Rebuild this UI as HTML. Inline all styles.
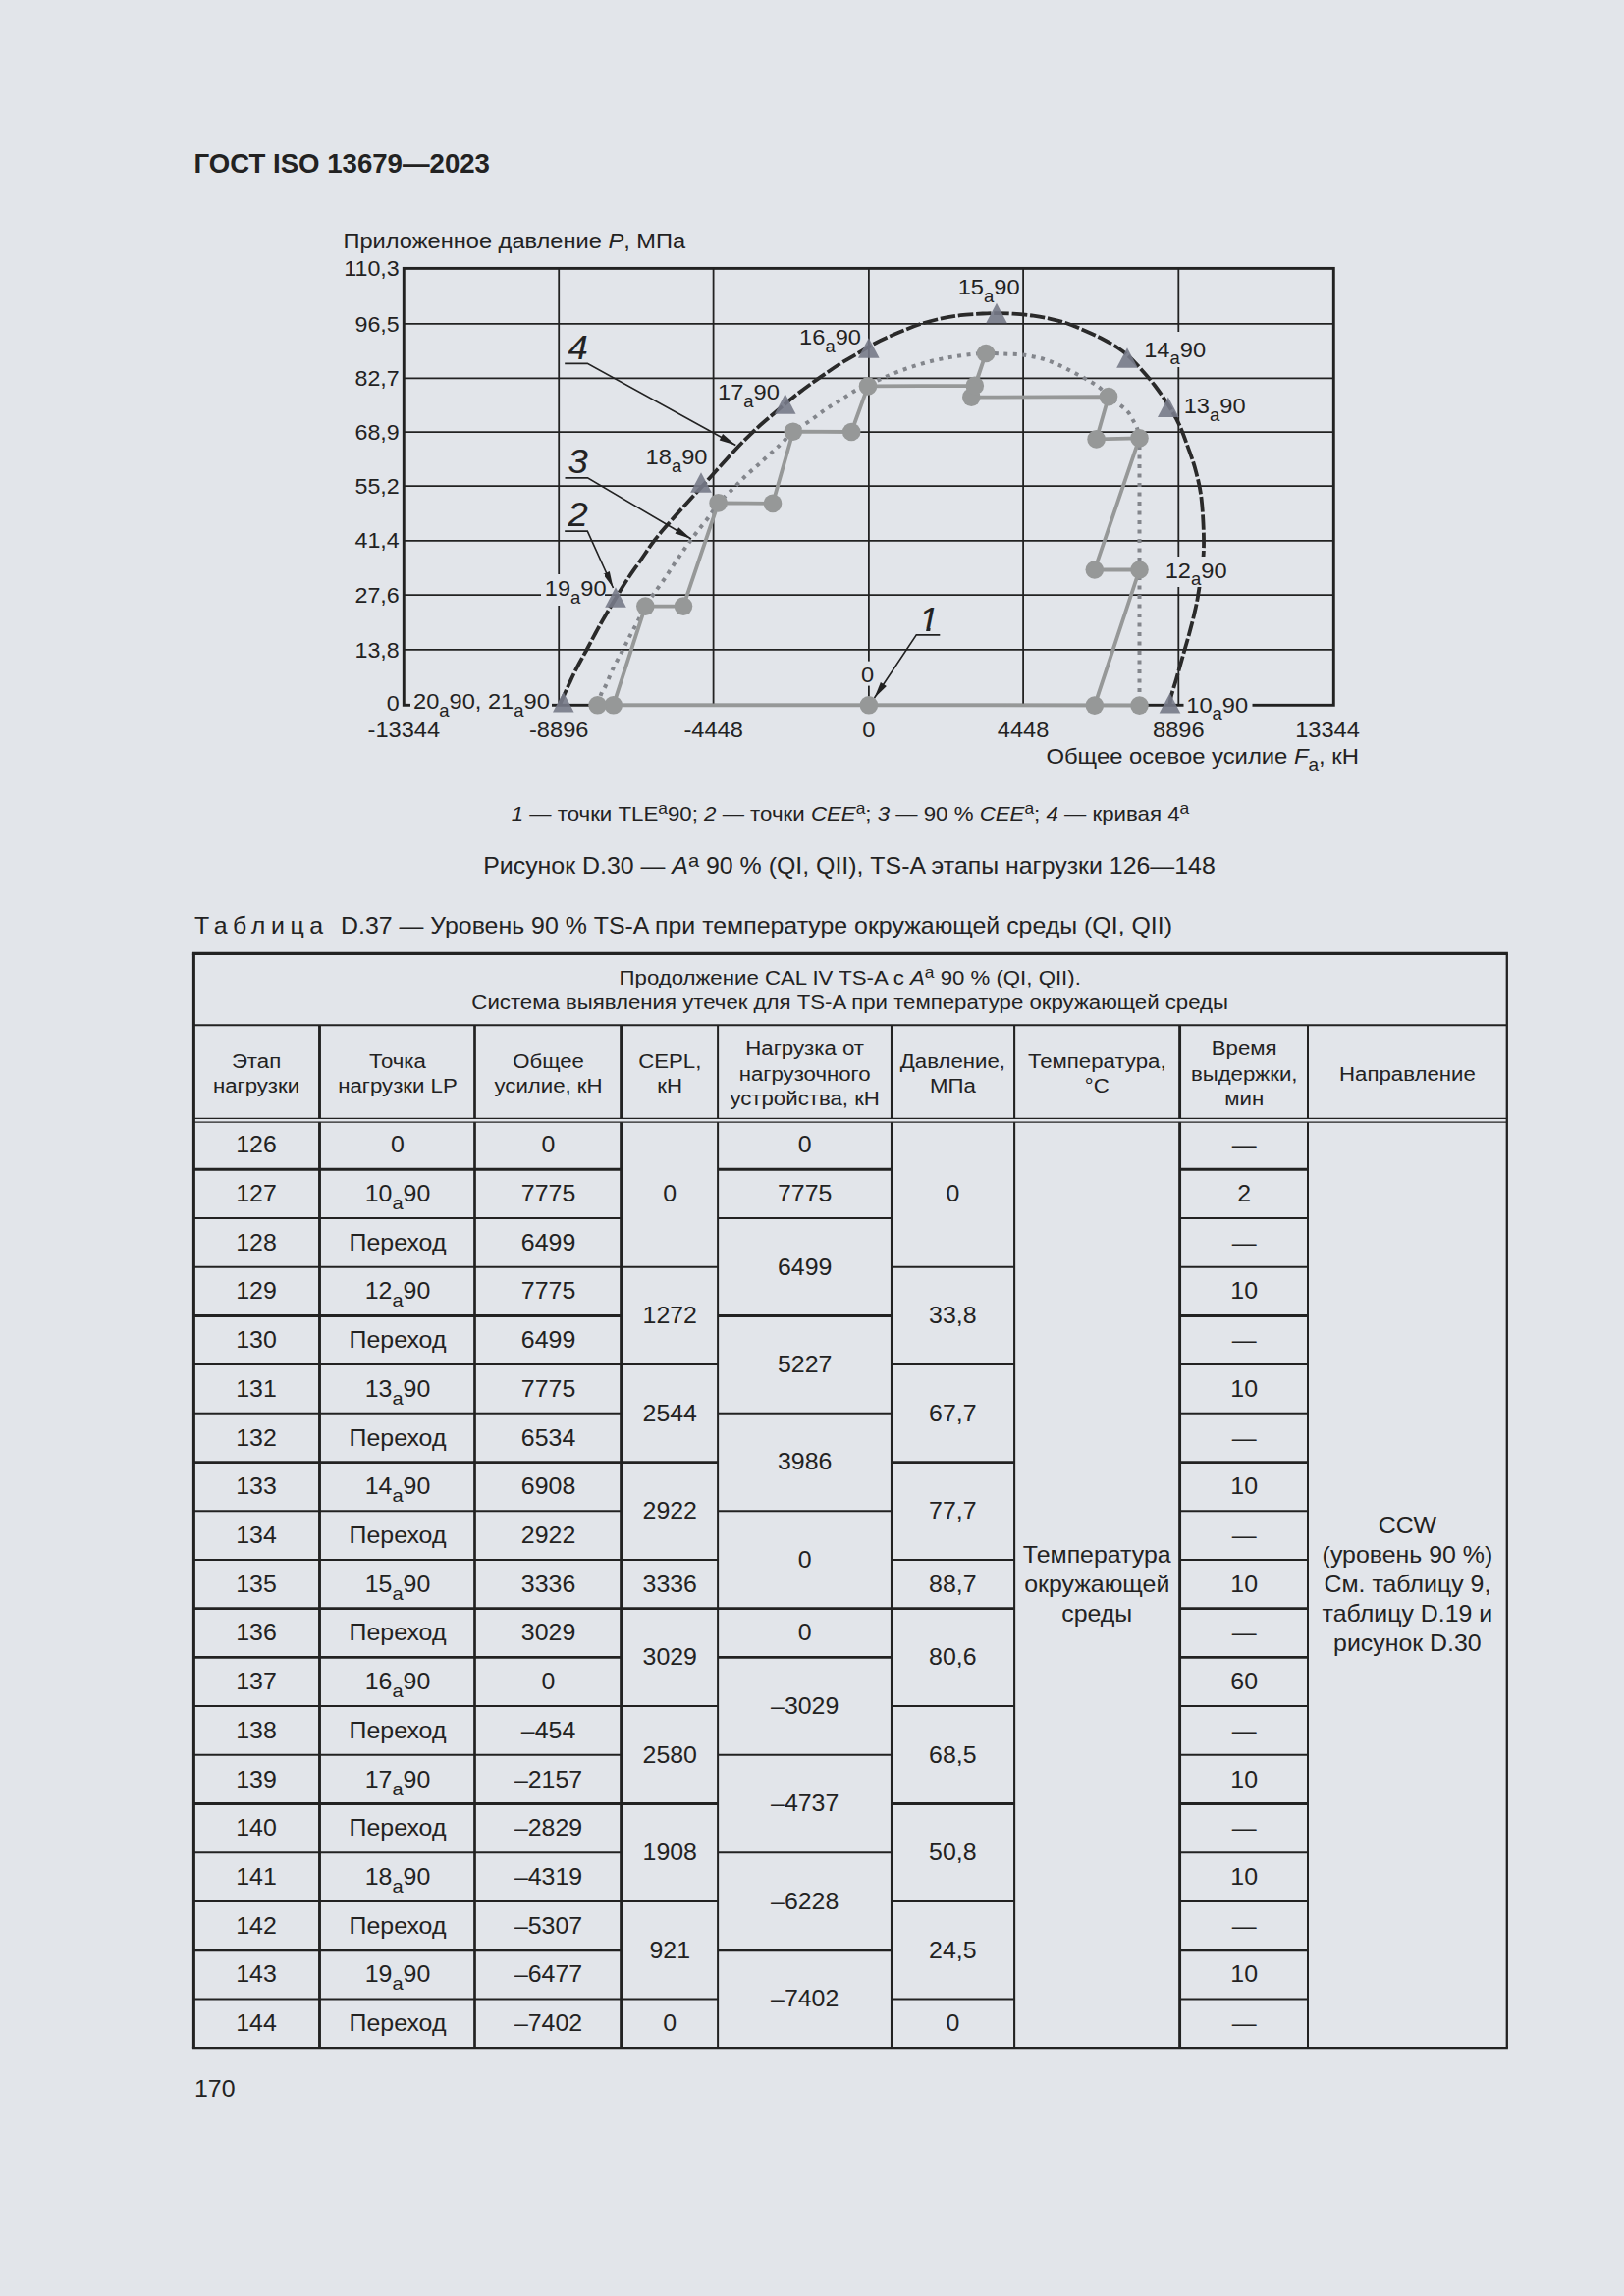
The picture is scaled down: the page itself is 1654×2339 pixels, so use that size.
<!DOCTYPE html>
<html lang="ru"><head><meta charset="utf-8"><title>ГОСТ ISO 13679—2023</title>
<style>
html,body{margin:0;padding:0;}
body{width:1654px;height:2339px;background:#e2e5ea;position:relative;overflow:hidden;font-family:"Liberation Sans", sans-serif;color:#222;}
.t{position:absolute;white-space:nowrap;line-height:1;transform-origin:0 50%;transform:scaleX(1.055);}
.c{position:absolute;text-align:center;white-space:nowrap;transform:scaleX(1.055);}
sub,sup{line-height:0;}
svg{position:absolute;left:0;top:0;}
svg text{font-family:"Liberation Sans", sans-serif;fill:#222;}
</style></head><body>
<div class="t" id="hdr" style="transform:none;left:197.5px;top:153.3px;font-size:27.6px;font-weight:bold;">ГОСТ ISO 13679—2023</div>
<svg width="1654" height="2339" viewBox="0 0 1654 2339">
<line x1="569.2" y1="273.4" x2="569.2" y2="718.3" stroke="#222" stroke-width="1.8"/>
<line x1="726.6" y1="273.4" x2="726.6" y2="718.3" stroke="#222" stroke-width="1.8"/>
<line x1="884.9" y1="273.4" x2="884.9" y2="718.3" stroke="#222" stroke-width="1.8"/>
<line x1="1042.1" y1="273.4" x2="1042.1" y2="718.3" stroke="#222" stroke-width="1.8"/>
<line x1="1200.3" y1="273.4" x2="1200.3" y2="718.3" stroke="#222" stroke-width="1.8"/>
<line x1="411.3" y1="329.9" x2="1358.3" y2="329.9" stroke="#222" stroke-width="1.8"/>
<line x1="411.3" y1="385.4" x2="1358.3" y2="385.4" stroke="#222" stroke-width="1.8"/>
<line x1="411.3" y1="440.2" x2="1358.3" y2="440.2" stroke="#222" stroke-width="1.8"/>
<line x1="411.3" y1="495.2" x2="1358.3" y2="495.2" stroke="#222" stroke-width="1.8"/>
<line x1="411.3" y1="550.8" x2="1358.3" y2="550.8" stroke="#222" stroke-width="1.8"/>
<line x1="411.3" y1="606.1" x2="1358.3" y2="606.1" stroke="#222" stroke-width="1.8"/>
<line x1="411.3" y1="661.9" x2="1358.3" y2="661.9" stroke="#222" stroke-width="1.8"/>
<rect x="411.3" y="273.4" width="947.0" height="444.9" fill="none" stroke="#222" stroke-width="2.9"/>
<path d="M608.6 718.0 C609.3 715.8 611.7 708.2 613.0 705.0 C614.3 701.8 614.6 703.1 616.6 699.0 C618.6 694.9 621.8 686.4 624.7 680.4 C627.6 674.4 631.1 668.3 633.9 663.0 C636.7 657.7 638.8 653.2 641.3 648.4 C643.8 643.6 646.3 639.1 649.0 634.0 C651.7 628.9 654.5 622.5 657.3 617.6 C660.1 612.7 662.7 609.4 666.0 604.7 C669.3 600.0 673.3 594.6 677.0 589.3 C680.7 583.9 684.3 578.0 688.0 572.6 C691.7 567.2 695.3 561.7 699.0 556.6 C702.7 551.5 706.1 546.9 710.0 541.8 C713.9 536.7 718.8 530.9 722.4 526.0 C726.0 521.1 727.9 517.1 731.9 512.4 C735.9 507.7 741.9 502.5 746.6 497.8 C751.3 493.1 755.7 488.3 760.3 484.0 C764.9 479.7 769.4 476.1 774.0 471.9 C778.6 467.7 784.4 462.3 788.0 459.0 C791.6 455.7 792.4 455.2 795.7 452.0 C799.0 448.8 802.8 444.0 807.8 440.0 C812.8 436.0 820.3 431.9 825.9 428.0 C831.5 424.1 836.2 420.2 841.4 416.7 C846.6 413.2 851.7 410.3 856.9 407.0 C862.1 403.7 867.5 399.7 872.4 397.0 C877.2 394.3 881.4 393.0 886.0 391.0 C890.6 389.0 894.8 387.0 900.0 384.8 C905.2 382.6 911.2 380.0 917.0 377.8 C922.8 375.6 928.8 373.6 935.0 371.7 C941.2 369.8 947.7 368.0 954.0 366.6 C960.3 365.2 967.0 364.1 973.0 363.1 C979.0 362.2 985.1 361.5 990.3 360.9 C995.5 360.3 998.8 359.8 1004.0 359.7 C1009.2 359.6 1015.4 360.2 1021.4 360.5 C1027.5 360.8 1034.0 360.7 1040.3 361.4 C1046.6 362.1 1053.2 363.2 1059.3 364.8 C1065.4 366.4 1071.2 368.7 1077.0 371.2 C1082.8 373.7 1088.2 376.7 1094.0 379.7 C1099.8 382.7 1107.2 386.8 1111.5 389.3 C1115.8 391.9 1117.1 392.6 1120.0 395.0 C1122.9 397.4 1125.5 401.0 1129.0 404.0 C1132.5 407.0 1137.7 410.2 1141.0 412.8 C1144.3 415.4 1146.6 417.1 1148.8 419.7 C1151.0 422.3 1152.5 425.6 1154.0 428.3 C1155.5 431.0 1156.9 433.0 1158.0 436.0 C1159.1 439.0 1160.1 444.7 1160.5 446.4 L1160.5 718" fill="none" stroke="#83868c" stroke-width="4" stroke-dasharray="4 5.5"/>
<polyline points="884.9,718.3 1160.5,718.6 1114.8,718.6 1160.5,580.5 1114.8,580.5 1160.5,446.4 1116.6,447.4 1129.0,404.1 989.3,404.7 1004.1,360.0 992.8,392.9 884.0,393.4 867.2,440.0 807.8,439.7 787.0,512.9 731.6,512.4 696.0,617.6 657.3,617.6 624.7,718.3 608.6,718.3 884.9,718.3" fill="none" stroke="#969898" stroke-width="3.8" stroke-linejoin="round"/>
<circle cx="884.9" cy="718.3" r="9.3" fill="#969898"/>
<circle cx="1160.5" cy="718.6" r="9.3" fill="#969898"/>
<circle cx="1114.8" cy="718.6" r="9.3" fill="#969898"/>
<circle cx="1160.5" cy="580.5" r="9.3" fill="#969898"/>
<circle cx="1114.8" cy="580.5" r="9.3" fill="#969898"/>
<circle cx="1160.5" cy="446.4" r="9.3" fill="#969898"/>
<circle cx="1116.6" cy="447.4" r="9.3" fill="#969898"/>
<circle cx="1129.0" cy="404.1" r="9.3" fill="#969898"/>
<circle cx="989.3" cy="404.7" r="9.3" fill="#969898"/>
<circle cx="1004.1" cy="360.0" r="9.3" fill="#969898"/>
<circle cx="992.8" cy="392.9" r="9.3" fill="#969898"/>
<circle cx="884.0" cy="393.4" r="9.3" fill="#969898"/>
<circle cx="867.2" cy="440.0" r="9.3" fill="#969898"/>
<circle cx="807.8" cy="439.7" r="9.3" fill="#969898"/>
<circle cx="787.0" cy="512.9" r="9.3" fill="#969898"/>
<circle cx="731.6" cy="512.4" r="9.3" fill="#969898"/>
<circle cx="696.0" cy="617.6" r="9.3" fill="#969898"/>
<circle cx="657.3" cy="617.6" r="9.3" fill="#969898"/>
<circle cx="624.7" cy="718.3" r="9.3" fill="#969898"/>
<circle cx="608.6" cy="718.3" r="9.3" fill="#969898"/>
<path d="M570.5 717.0 C571.0 715.8 572.1 713.3 573.6 710.0 C575.1 706.7 577.5 701.3 579.5 697.0 C581.5 692.7 583.5 688.2 585.6 684.0 C587.7 679.8 589.8 676.0 592.0 672.0 C594.2 668.0 596.3 664.3 598.6 660.0 C600.9 655.7 603.4 650.8 606.0 646.0 C608.6 641.2 610.5 637.6 614.0 631.5 C617.5 625.4 622.9 616.3 627.0 609.5 C631.1 602.7 634.6 597.0 638.8 590.5 C643.0 584.0 647.7 577.6 652.4 570.8 C657.1 564.0 661.9 556.5 667.0 549.9 C672.1 543.3 677.5 537.3 683.0 531.0 C688.5 524.7 692.9 519.9 700.0 512.0 C707.1 504.1 717.6 492.7 725.9 483.5 C734.2 474.3 742.8 464.6 750.0 457.0 C757.2 449.4 762.4 444.2 769.0 438.0 C775.6 431.8 782.9 425.8 789.7 420.0 C796.5 414.2 803.1 408.4 810.0 403.0 C816.9 397.6 823.5 392.7 831.0 387.4 C838.5 382.1 848.1 375.4 855.0 371.0 C861.9 366.6 866.5 364.2 872.4 360.7 C878.3 357.2 883.3 353.8 890.3 350.2 C897.3 346.6 906.7 342.3 914.5 339.0 C922.3 335.7 929.7 332.7 936.9 330.3 C944.1 327.9 950.7 326.2 957.6 324.7 C964.5 323.2 971.1 322.1 978.3 321.2 C985.5 320.3 994.6 319.9 1000.7 319.5 C1006.8 319.1 1009.8 319.1 1015.0 319.1 C1020.2 319.1 1025.5 319.3 1031.7 319.7 C1037.9 320.1 1046.1 320.8 1052.4 321.7 C1058.7 322.6 1064.0 323.5 1069.7 324.8 C1075.5 326.1 1081.2 327.6 1086.9 329.5 C1092.6 331.4 1098.2 333.9 1104.0 336.4 C1109.8 338.9 1115.6 341.5 1121.4 344.5 C1127.2 347.5 1133.8 351.4 1138.6 354.5 C1143.4 357.6 1146.2 359.8 1150.0 363.3 C1153.8 366.8 1157.5 370.9 1161.7 375.7 C1166.0 380.5 1170.8 385.8 1175.5 392.0 C1180.2 398.2 1185.7 405.9 1190.0 412.8 C1194.3 419.7 1198.1 426.2 1201.4 433.4 C1204.7 440.6 1207.4 448.7 1210.0 455.9 C1212.6 463.1 1214.9 468.9 1217.0 476.6 C1219.1 484.3 1221.4 492.6 1222.8 502.0 C1224.2 511.4 1225.0 522.0 1225.5 533.0 C1226.0 544.0 1226.4 555.9 1225.5 568.0 C1224.6 580.1 1221.7 596.7 1220.3 605.9 C1218.9 615.1 1218.3 616.7 1216.9 623.0 C1215.5 629.3 1213.7 636.3 1211.7 643.8 C1209.7 651.3 1207.1 660.0 1204.8 668.0 C1202.5 676.0 1200.0 685.1 1198.0 692.0 C1196.0 698.9 1193.9 704.9 1192.8 709.3 C1191.7 713.7 1191.7 716.8 1191.5 718.3" fill="none" stroke="#2a2a2a" stroke-width="3.8" stroke-dasharray="15.5 2.8"/>
<polygon points="1191.5,706.0 1180.7,726.5 1202.3,726.5" fill="#777a88" fill-opacity="0.9"/>
<polygon points="1189.8,404.6 1179.0,425.1 1200.6,425.1" fill="#777a88" fill-opacity="0.9"/>
<polygon points="1148.0,354.3 1137.2,374.8 1158.8,374.8" fill="#777a88" fill-opacity="0.9"/>
<polygon points="1015.0,308.8 1004.2,329.3 1025.8,329.3" fill="#777a88" fill-opacity="0.9"/>
<polygon points="884.8,344.2 874.0,364.7 895.6,364.7" fill="#777a88" fill-opacity="0.9"/>
<polygon points="799.7,401.3 788.9,421.8 810.5,421.8" fill="#777a88" fill-opacity="0.9"/>
<polygon points="714.0,481.3 703.2,501.8 724.8,501.8" fill="#777a88" fill-opacity="0.9"/>
<polygon points="627.0,598.2 616.2,618.7 637.8,618.7" fill="#777a88" fill-opacity="0.9"/>
<polygon points="573.8,705.1 563.0,725.6 584.6,725.6" fill="#777a88" fill-opacity="0.9"/>
<polyline points="575.2,370.4 598.3,370.4 749.3,453.5" fill="none" stroke="#222" stroke-width="1.6"/>
<polygon points="749.3,453.5 732.7,448.5 736.1,442.1" fill="#222"/>
<polyline points="575.5,486.9 598.5,486.9 704.0,549.0" fill="none" stroke="#222" stroke-width="1.6"/>
<polygon points="704.0,549.0 687.5,543.5 691.2,537.3" fill="#222"/>
<polyline points="575.2,541.1 598.3,541.1 624.5,599.0" fill="none" stroke="#222" stroke-width="1.6"/>
<polygon points="624.5,599.0 614.2,585.0 620.8,582.0" fill="#222"/>
<polyline points="957.3,646.9 933.3,646.9 890.5,711.0" fill="none" stroke="#222" stroke-width="1.6"/>
<polygon points="890.5,711.0 896.9,694.9 902.9,698.9" fill="#222"/>
<text transform="translate(588.5 366.3) scale(1.055 1)" font-size="34.5" font-style="italic" text-anchor="middle" stroke="#222" stroke-width="0.12">4</text>
<text transform="translate(588.5 482.2) scale(1.055 1)" font-size="34.5" font-style="italic" text-anchor="middle" stroke="#222" stroke-width="0.12">3</text>
<text transform="translate(588.5 536.4) scale(1.055 1)" font-size="34.5" font-style="italic" text-anchor="middle" stroke="#222" stroke-width="0.12">2</text>
<text transform="translate(945.8 642.8) scale(1.055 1)" font-size="34.5" font-style="italic" text-anchor="middle" stroke="#222" stroke-width="0.12">1</text>
<polygon points="935.5,639.9 943.6,639.9 943.0,644 935.5,644" fill="#e2e5ea"/>
<polygon points="947.7,639.9 955.5,639.9 955.5,644 947.1,644" fill="#e2e5ea"/>
<rect x="1183.0" y="567.0" width="70.0" height="31.0" fill="#e2e5ea"/>
<rect x="1205.5" y="706.0" width="70.0" height="24.0" fill="#e2e5ea"/>
<rect x="418.0" y="706.0" width="144.0" height="24.0" fill="#e2e5ea"/>
<rect x="551.0" y="585.0" width="65.0" height="32.0" fill="#e2e5ea"/>
<rect x="876.0" y="673.6" width="17.0" height="25.0" fill="#e2e5ea"/>
<rect x="1203.0" y="402.0" width="68.0" height="30.0" fill="#e2e5ea"/>
<rect x="1163.0" y="338.0" width="66.0" height="36.0" fill="#e2e5ea"/>
<text transform="translate(975.7 300.2) scale(1.055 1)" font-size="22.4" text-anchor="start">15<tspan dy="7.5" font-size="17.5">a</tspan><tspan dy="-7.5">90</tspan></text>
<text transform="translate(814.1 351.0) scale(1.055 1)" font-size="22.4" text-anchor="start">16<tspan dy="7.5" font-size="17.5">a</tspan><tspan dy="-7.5">90</tspan></text>
<text transform="translate(731.0 407.2) scale(1.055 1)" font-size="22.4" text-anchor="start">17<tspan dy="7.5" font-size="17.5">a</tspan><tspan dy="-7.5">90</tspan></text>
<text transform="translate(657.6 473.4) scale(1.055 1)" font-size="22.4" text-anchor="start">18<tspan dy="7.5" font-size="17.5">a</tspan><tspan dy="-7.5">90</tspan></text>
<text transform="translate(554.8 607.3) scale(1.055 1)" font-size="22.4" text-anchor="start">19<tspan dy="7.5" font-size="17.5">a</tspan><tspan dy="-7.5">90</tspan></text>
<text transform="translate(421.0 722.0) scale(1.055 1)" font-size="22.4" text-anchor="start">20<tspan dy="7.5" font-size="17.5">a</tspan><tspan dy="-7.5">90, 21</tspan><tspan dy="7.5" font-size="17.5">a</tspan><tspan dy="-7.5">90</tspan></text>
<text transform="translate(1165.2 363.6) scale(1.055 1)" font-size="22.4" text-anchor="start">14<tspan dy="7.5" font-size="17.5">a</tspan><tspan dy="-7.5">90</tspan></text>
<text transform="translate(1205.7 421.3) scale(1.055 1)" font-size="22.4" text-anchor="start">13<tspan dy="7.5" font-size="17.5">a</tspan><tspan dy="-7.5">90</tspan></text>
<text transform="translate(1186.7 588.6) scale(1.055 1)" font-size="22.4" text-anchor="start">12<tspan dy="7.5" font-size="17.5">a</tspan><tspan dy="-7.5">90</tspan></text>
<text transform="translate(1208.3 725.7) scale(1.055 1)" font-size="22.4" text-anchor="start">10<tspan dy="7.5" font-size="17.5">a</tspan><tspan dy="-7.5">90</tspan></text>
<text transform="translate(883.6 694.5) scale(1.055 1)" font-size="22.4" text-anchor="middle">0</text>
<text transform="translate(406.7 281.0) scale(1.055 1)" font-size="22.0" text-anchor="end">110,3</text>
<text transform="translate(406.7 337.5) scale(1.055 1)" font-size="22.0" text-anchor="end">96,5</text>
<text transform="translate(406.7 393.0) scale(1.055 1)" font-size="22.0" text-anchor="end">82,7</text>
<text transform="translate(406.7 447.8) scale(1.055 1)" font-size="22.0" text-anchor="end">68,9</text>
<text transform="translate(406.7 502.8) scale(1.055 1)" font-size="22.0" text-anchor="end">55,2</text>
<text transform="translate(406.7 558.4) scale(1.055 1)" font-size="22.0" text-anchor="end">41,4</text>
<text transform="translate(406.7 613.7) scale(1.055 1)" font-size="22.0" text-anchor="end">27,6</text>
<text transform="translate(406.7 669.5) scale(1.055 1)" font-size="22.0" text-anchor="end">13,8</text>
<text transform="translate(406.7 723.5) scale(1.055 1)" font-size="22.0" text-anchor="end">0</text>
<text transform="translate(411.3 751.2) scale(1.055 1)" font-size="22.4" text-anchor="middle">-13344</text>
<text transform="translate(569.2 751.2) scale(1.055 1)" font-size="22.4" text-anchor="middle">-8896</text>
<text transform="translate(726.6 751.2) scale(1.055 1)" font-size="22.4" text-anchor="middle">-4448</text>
<text transform="translate(884.9 751.2) scale(1.055 1)" font-size="22.4" text-anchor="middle">0</text>
<text transform="translate(1042.1 751.2) scale(1.055 1)" font-size="22.4" text-anchor="middle">4448</text>
<text transform="translate(1200.3 751.2) scale(1.055 1)" font-size="22.4" text-anchor="middle">8896</text>
<text transform="translate(1352.0 751.2) scale(1.055 1)" font-size="22.4" text-anchor="middle">13344</text>
<text transform="translate(349.5 252.8) scale(1.055 1)" font-size="22.4">Приложенное давление <tspan font-style="italic">P</tspan>, МПа</text>
<text transform="translate(1384 778.2) scale(1.055 1)" font-size="22.6" text-anchor="end">Общее осевое усилие <tspan font-style="italic">F</tspan><tspan dy="7" font-size="18">а</tspan><tspan dy="-7">, кН</tspan></text>
<line x1="325.5" y1="1044.2" x2="325.5" y2="2086.1" stroke="#222" stroke-width="2.9"/>
<line x1="483.5" y1="1044.2" x2="483.5" y2="2086.1" stroke="#222" stroke-width="2.7"/>
<line x1="632.6" y1="1044.2" x2="632.6" y2="2086.1" stroke="#222" stroke-width="2.9"/>
<line x1="731.1" y1="1044.2" x2="731.1" y2="2086.1" stroke="#222" stroke-width="2.0"/>
<line x1="908.4" y1="1044.2" x2="908.4" y2="2086.1" stroke="#222" stroke-width="2.9"/>
<line x1="1033.1" y1="1044.2" x2="1033.1" y2="2086.1" stroke="#222" stroke-width="2.1"/>
<line x1="1201.6" y1="1044.2" x2="1201.6" y2="2086.1" stroke="#222" stroke-width="2.9"/>
<line x1="1332.0" y1="1044.2" x2="1332.0" y2="2086.1" stroke="#222" stroke-width="2.0"/>
<rect x="197.4" y="1139.4" width="1337.4" height="3.8" fill="#e2e5ea"/>
<line x1="197.4" y1="1139.4" x2="1534.8" y2="1139.4" stroke="#222" stroke-width="1.3"/>
<line x1="197.4" y1="1143.2" x2="1534.8" y2="1143.2" stroke="#222" stroke-width="1.3"/>
<line x1="197.4" y1="1191.3" x2="325.5" y2="1191.3" stroke="#222" stroke-width="3.0"/>
<line x1="197.4" y1="1241.0" x2="325.5" y2="1241.0" stroke="#222" stroke-width="2.0"/>
<line x1="197.4" y1="1290.7" x2="325.5" y2="1290.7" stroke="#222" stroke-width="2.0"/>
<line x1="197.4" y1="1340.4" x2="325.5" y2="1340.4" stroke="#222" stroke-width="3.0"/>
<line x1="197.4" y1="1390.1" x2="325.5" y2="1390.1" stroke="#222" stroke-width="2.0"/>
<line x1="197.4" y1="1439.8" x2="325.5" y2="1439.8" stroke="#222" stroke-width="2.0"/>
<line x1="197.4" y1="1489.6" x2="325.5" y2="1489.6" stroke="#222" stroke-width="2.9"/>
<line x1="197.4" y1="1539.3" x2="325.5" y2="1539.3" stroke="#222" stroke-width="2.0"/>
<line x1="197.4" y1="1589.0" x2="325.5" y2="1589.0" stroke="#222" stroke-width="2.0"/>
<line x1="197.4" y1="1638.7" x2="325.5" y2="1638.7" stroke="#222" stroke-width="2.7"/>
<line x1="197.4" y1="1688.4" x2="325.5" y2="1688.4" stroke="#222" stroke-width="2.6"/>
<line x1="197.4" y1="1738.1" x2="325.5" y2="1738.1" stroke="#222" stroke-width="2.0"/>
<line x1="197.4" y1="1787.8" x2="325.5" y2="1787.8" stroke="#222" stroke-width="2.0"/>
<line x1="197.4" y1="1837.5" x2="325.5" y2="1837.5" stroke="#222" stroke-width="3.0"/>
<line x1="197.4" y1="1887.2" x2="325.5" y2="1887.2" stroke="#222" stroke-width="2.0"/>
<line x1="197.4" y1="1936.9" x2="325.5" y2="1936.9" stroke="#222" stroke-width="2.0"/>
<line x1="197.4" y1="1986.7" x2="325.5" y2="1986.7" stroke="#222" stroke-width="3.0"/>
<line x1="197.4" y1="2036.4" x2="325.5" y2="2036.4" stroke="#222" stroke-width="2.0"/>
<line x1="325.5" y1="1191.3" x2="483.5" y2="1191.3" stroke="#222" stroke-width="3.0"/>
<line x1="325.5" y1="1241.0" x2="483.5" y2="1241.0" stroke="#222" stroke-width="2.0"/>
<line x1="325.5" y1="1290.7" x2="483.5" y2="1290.7" stroke="#222" stroke-width="2.0"/>
<line x1="325.5" y1="1340.4" x2="483.5" y2="1340.4" stroke="#222" stroke-width="3.0"/>
<line x1="325.5" y1="1390.1" x2="483.5" y2="1390.1" stroke="#222" stroke-width="2.0"/>
<line x1="325.5" y1="1439.8" x2="483.5" y2="1439.8" stroke="#222" stroke-width="2.0"/>
<line x1="325.5" y1="1489.6" x2="483.5" y2="1489.6" stroke="#222" stroke-width="2.9"/>
<line x1="325.5" y1="1539.3" x2="483.5" y2="1539.3" stroke="#222" stroke-width="2.0"/>
<line x1="325.5" y1="1589.0" x2="483.5" y2="1589.0" stroke="#222" stroke-width="2.0"/>
<line x1="325.5" y1="1638.7" x2="483.5" y2="1638.7" stroke="#222" stroke-width="2.7"/>
<line x1="325.5" y1="1688.4" x2="483.5" y2="1688.4" stroke="#222" stroke-width="2.6"/>
<line x1="325.5" y1="1738.1" x2="483.5" y2="1738.1" stroke="#222" stroke-width="2.0"/>
<line x1="325.5" y1="1787.8" x2="483.5" y2="1787.8" stroke="#222" stroke-width="2.0"/>
<line x1="325.5" y1="1837.5" x2="483.5" y2="1837.5" stroke="#222" stroke-width="3.0"/>
<line x1="325.5" y1="1887.2" x2="483.5" y2="1887.2" stroke="#222" stroke-width="2.0"/>
<line x1="325.5" y1="1936.9" x2="483.5" y2="1936.9" stroke="#222" stroke-width="2.0"/>
<line x1="325.5" y1="1986.7" x2="483.5" y2="1986.7" stroke="#222" stroke-width="3.0"/>
<line x1="325.5" y1="2036.4" x2="483.5" y2="2036.4" stroke="#222" stroke-width="2.0"/>
<line x1="483.5" y1="1191.3" x2="632.6" y2="1191.3" stroke="#222" stroke-width="3.0"/>
<line x1="483.5" y1="1241.0" x2="632.6" y2="1241.0" stroke="#222" stroke-width="2.0"/>
<line x1="483.5" y1="1290.7" x2="632.6" y2="1290.7" stroke="#222" stroke-width="2.0"/>
<line x1="483.5" y1="1340.4" x2="632.6" y2="1340.4" stroke="#222" stroke-width="3.0"/>
<line x1="483.5" y1="1390.1" x2="632.6" y2="1390.1" stroke="#222" stroke-width="2.0"/>
<line x1="483.5" y1="1439.8" x2="632.6" y2="1439.8" stroke="#222" stroke-width="2.0"/>
<line x1="483.5" y1="1489.6" x2="632.6" y2="1489.6" stroke="#222" stroke-width="2.9"/>
<line x1="483.5" y1="1539.3" x2="632.6" y2="1539.3" stroke="#222" stroke-width="2.0"/>
<line x1="483.5" y1="1589.0" x2="632.6" y2="1589.0" stroke="#222" stroke-width="2.0"/>
<line x1="483.5" y1="1638.7" x2="632.6" y2="1638.7" stroke="#222" stroke-width="2.7"/>
<line x1="483.5" y1="1688.4" x2="632.6" y2="1688.4" stroke="#222" stroke-width="2.6"/>
<line x1="483.5" y1="1738.1" x2="632.6" y2="1738.1" stroke="#222" stroke-width="2.0"/>
<line x1="483.5" y1="1787.8" x2="632.6" y2="1787.8" stroke="#222" stroke-width="2.0"/>
<line x1="483.5" y1="1837.5" x2="632.6" y2="1837.5" stroke="#222" stroke-width="3.0"/>
<line x1="483.5" y1="1887.2" x2="632.6" y2="1887.2" stroke="#222" stroke-width="2.0"/>
<line x1="483.5" y1="1936.9" x2="632.6" y2="1936.9" stroke="#222" stroke-width="2.0"/>
<line x1="483.5" y1="1986.7" x2="632.6" y2="1986.7" stroke="#222" stroke-width="3.0"/>
<line x1="483.5" y1="2036.4" x2="632.6" y2="2036.4" stroke="#222" stroke-width="2.0"/>
<line x1="632.6" y1="1290.7" x2="731.1" y2="1290.7" stroke="#222" stroke-width="2.0"/>
<line x1="632.6" y1="1390.1" x2="731.1" y2="1390.1" stroke="#222" stroke-width="2.0"/>
<line x1="632.6" y1="1489.6" x2="731.1" y2="1489.6" stroke="#222" stroke-width="2.9"/>
<line x1="632.6" y1="1589.0" x2="731.1" y2="1589.0" stroke="#222" stroke-width="2.0"/>
<line x1="632.6" y1="1638.7" x2="731.1" y2="1638.7" stroke="#222" stroke-width="2.7"/>
<line x1="632.6" y1="1738.1" x2="731.1" y2="1738.1" stroke="#222" stroke-width="2.0"/>
<line x1="632.6" y1="1837.5" x2="731.1" y2="1837.5" stroke="#222" stroke-width="3.0"/>
<line x1="632.6" y1="1936.9" x2="731.1" y2="1936.9" stroke="#222" stroke-width="2.0"/>
<line x1="632.6" y1="2036.4" x2="731.1" y2="2036.4" stroke="#222" stroke-width="2.0"/>
<line x1="731.1" y1="1191.3" x2="908.4" y2="1191.3" stroke="#222" stroke-width="3.0"/>
<line x1="731.1" y1="1241.0" x2="908.4" y2="1241.0" stroke="#222" stroke-width="2.0"/>
<line x1="731.1" y1="1340.4" x2="908.4" y2="1340.4" stroke="#222" stroke-width="3.0"/>
<line x1="731.1" y1="1439.8" x2="908.4" y2="1439.8" stroke="#222" stroke-width="2.0"/>
<line x1="731.1" y1="1539.3" x2="908.4" y2="1539.3" stroke="#222" stroke-width="2.0"/>
<line x1="731.1" y1="1638.7" x2="908.4" y2="1638.7" stroke="#222" stroke-width="2.7"/>
<line x1="731.1" y1="1688.4" x2="908.4" y2="1688.4" stroke="#222" stroke-width="2.6"/>
<line x1="731.1" y1="1787.8" x2="908.4" y2="1787.8" stroke="#222" stroke-width="2.0"/>
<line x1="731.1" y1="1887.2" x2="908.4" y2="1887.2" stroke="#222" stroke-width="2.0"/>
<line x1="731.1" y1="1986.7" x2="908.4" y2="1986.7" stroke="#222" stroke-width="3.0"/>
<line x1="908.4" y1="1290.7" x2="1033.1" y2="1290.7" stroke="#222" stroke-width="2.0"/>
<line x1="908.4" y1="1390.1" x2="1033.1" y2="1390.1" stroke="#222" stroke-width="2.0"/>
<line x1="908.4" y1="1489.6" x2="1033.1" y2="1489.6" stroke="#222" stroke-width="2.9"/>
<line x1="908.4" y1="1589.0" x2="1033.1" y2="1589.0" stroke="#222" stroke-width="2.0"/>
<line x1="908.4" y1="1638.7" x2="1033.1" y2="1638.7" stroke="#222" stroke-width="2.7"/>
<line x1="908.4" y1="1738.1" x2="1033.1" y2="1738.1" stroke="#222" stroke-width="2.0"/>
<line x1="908.4" y1="1837.5" x2="1033.1" y2="1837.5" stroke="#222" stroke-width="3.0"/>
<line x1="908.4" y1="1936.9" x2="1033.1" y2="1936.9" stroke="#222" stroke-width="2.0"/>
<line x1="908.4" y1="2036.4" x2="1033.1" y2="2036.4" stroke="#222" stroke-width="2.0"/>
<line x1="1201.6" y1="1191.3" x2="1332.0" y2="1191.3" stroke="#222" stroke-width="3.0"/>
<line x1="1201.6" y1="1241.0" x2="1332.0" y2="1241.0" stroke="#222" stroke-width="2.0"/>
<line x1="1201.6" y1="1290.7" x2="1332.0" y2="1290.7" stroke="#222" stroke-width="2.0"/>
<line x1="1201.6" y1="1340.4" x2="1332.0" y2="1340.4" stroke="#222" stroke-width="3.0"/>
<line x1="1201.6" y1="1390.1" x2="1332.0" y2="1390.1" stroke="#222" stroke-width="2.0"/>
<line x1="1201.6" y1="1439.8" x2="1332.0" y2="1439.8" stroke="#222" stroke-width="2.0"/>
<line x1="1201.6" y1="1489.6" x2="1332.0" y2="1489.6" stroke="#222" stroke-width="2.9"/>
<line x1="1201.6" y1="1539.3" x2="1332.0" y2="1539.3" stroke="#222" stroke-width="2.0"/>
<line x1="1201.6" y1="1589.0" x2="1332.0" y2="1589.0" stroke="#222" stroke-width="2.0"/>
<line x1="1201.6" y1="1638.7" x2="1332.0" y2="1638.7" stroke="#222" stroke-width="2.7"/>
<line x1="1201.6" y1="1688.4" x2="1332.0" y2="1688.4" stroke="#222" stroke-width="2.6"/>
<line x1="1201.6" y1="1738.1" x2="1332.0" y2="1738.1" stroke="#222" stroke-width="2.0"/>
<line x1="1201.6" y1="1787.8" x2="1332.0" y2="1787.8" stroke="#222" stroke-width="2.0"/>
<line x1="1201.6" y1="1837.5" x2="1332.0" y2="1837.5" stroke="#222" stroke-width="3.0"/>
<line x1="1201.6" y1="1887.2" x2="1332.0" y2="1887.2" stroke="#222" stroke-width="2.0"/>
<line x1="1201.6" y1="1936.9" x2="1332.0" y2="1936.9" stroke="#222" stroke-width="2.0"/>
<line x1="1201.6" y1="1986.7" x2="1332.0" y2="1986.7" stroke="#222" stroke-width="3.0"/>
<line x1="1201.6" y1="2036.4" x2="1332.0" y2="2036.4" stroke="#222" stroke-width="2.0"/>
<line x1="197.4" y1="1044.2" x2="1534.8" y2="1044.2" stroke="#222" stroke-width="2.0"/>
<line x1="195.9" y1="971.4" x2="1535.9" y2="971.4" stroke="#222" stroke-width="3.2"/>
<line x1="195.9" y1="2086.1" x2="1535.9" y2="2086.1" stroke="#222" stroke-width="2.2"/>
<line x1="197.4" y1="971.4" x2="197.4" y2="2086.1" stroke="#222" stroke-width="3.0"/>
<line x1="1534.8" y1="971.4" x2="1534.8" y2="2086.1" stroke="#222" stroke-width="2.3"/>
</svg>
<div class="c" id="leg" style="left:197px;width:1338px;top:815.7px;font-size:21.1px;line-height:26px;"><i>1</i> — точки TLE<sup style="font-size:16.5px;vertical-align:7px">а</sup>90; <i>2</i> — точки <i>CEE</i><sup style="font-size:16.5px;vertical-align:7px">а</sup>; <i>3</i> — 90 % <i>CEE</i><sup style="font-size:16.5px;vertical-align:7px">а</sup>; <i>4</i> — кривая 4<sup style="font-size:16.5px;vertical-align:7px">а</sup></div>
<div class="c" id="fig" style="left:196px;width:1338px;top:866.5px;font-size:23.6px;line-height:30px;">Рисунок D.30 — <i>A</i><sup style="font-size:19px;vertical-align:7.5px">а</sup> 90 % (QI, QII), TS-A этапы нагрузки 126—148</div>
<div class="t" id="tab" style="left:197.5px;top:932.2px;font-size:23.6px;"><span style="letter-spacing:5.3px">Таблица</span>&nbsp;<span style="margin-left:-1.5px"></span> D.37 — Уровень 90 % TS-A при температуре окружающей среды (QI, QII)</div>
<div class="c" id="th0" style="left:197.4px;width:1337.4px;top:984.0px;font-size:21.05px;line-height:24.6px;">Продолжение CAL IV TS-A с <i>A</i><sup style="font-size:16.5px;vertical-align:7px">а</sup> 90 % (QI, QII).<br>Система выявления утечек для TS-A при температуре окружающей среды</div>
<div class="c" style="left:197.4px;width:128.1px;top:1068.0px;font-size:21.05px;line-height:25.2px;">Этап<br>нагрузки</div>
<div class="c" style="left:325.5px;width:158.0px;top:1068.0px;font-size:21.05px;line-height:25.2px;">Точка<br>нагрузки LP</div>
<div class="c" style="left:483.5px;width:149.1px;top:1068.0px;font-size:21.05px;line-height:25.2px;">Общее<br>усилие, кН</div>
<div class="c" style="left:632.6px;width:98.5px;top:1068.0px;font-size:21.05px;line-height:25.2px;">CEPL,<br>кН</div>
<div class="c" style="left:731.1px;width:177.3px;top:1055.4px;font-size:21.05px;line-height:25.2px;">Нагрузка от<br>нагрузочного<br>устройства, кН</div>
<div class="c" style="left:908.4px;width:124.7px;top:1068.0px;font-size:21.05px;line-height:25.2px;">Давление,<br>МПа</div>
<div class="c" style="left:1033.1px;width:168.5px;top:1068.0px;font-size:21.05px;line-height:25.2px;">Температура,<br>°С</div>
<div class="c" style="left:1201.6px;width:130.4px;top:1055.4px;font-size:21.05px;line-height:25.2px;">Время<br>выдержки,<br>мин</div>
<div class="c" style="left:1332.0px;width:202.8px;top:1080.6px;font-size:21.05px;line-height:25.2px;">Направление</div>
<div class="c" style="left:197.4px;width:128.1px;top:1151.2px;font-size:23.6px;line-height:30.0px;">126</div>
<div class="c" style="left:325.5px;width:158.0px;top:1151.2px;font-size:23.6px;line-height:30.0px;">0</div>
<div class="c" style="left:483.5px;width:149.1px;top:1151.2px;font-size:23.6px;line-height:30.0px;">0</div>
<div class="c" style="left:1201.6px;width:130.4px;top:1151.2px;font-size:23.6px;line-height:30.0px;">—</div>
<div class="c" style="left:197.4px;width:128.1px;top:1201.0px;font-size:23.6px;line-height:30.0px;">127</div>
<div class="c" style="left:325.5px;width:158.0px;top:1201.0px;font-size:23.6px;line-height:30.0px;">10<sub style="font-size:19px;vertical-align:-7.5px">а</sub>90</div>
<div class="c" style="left:483.5px;width:149.1px;top:1201.0px;font-size:23.6px;line-height:30.0px;">7775</div>
<div class="c" style="left:1201.6px;width:130.4px;top:1201.0px;font-size:23.6px;line-height:30.0px;">2</div>
<div class="c" style="left:197.4px;width:128.1px;top:1250.7px;font-size:23.6px;line-height:30.0px;">128</div>
<div class="c" style="left:325.5px;width:158.0px;top:1250.7px;font-size:23.6px;line-height:30.0px;">Переход</div>
<div class="c" style="left:483.5px;width:149.1px;top:1250.7px;font-size:23.6px;line-height:30.0px;">6499</div>
<div class="c" style="left:1201.6px;width:130.4px;top:1250.7px;font-size:23.6px;line-height:30.0px;">—</div>
<div class="c" style="left:197.4px;width:128.1px;top:1300.4px;font-size:23.6px;line-height:30.0px;">129</div>
<div class="c" style="left:325.5px;width:158.0px;top:1300.4px;font-size:23.6px;line-height:30.0px;">12<sub style="font-size:19px;vertical-align:-7.5px">а</sub>90</div>
<div class="c" style="left:483.5px;width:149.1px;top:1300.4px;font-size:23.6px;line-height:30.0px;">7775</div>
<div class="c" style="left:1201.6px;width:130.4px;top:1300.4px;font-size:23.6px;line-height:30.0px;">10</div>
<div class="c" style="left:197.4px;width:128.1px;top:1350.1px;font-size:23.6px;line-height:30.0px;">130</div>
<div class="c" style="left:325.5px;width:158.0px;top:1350.1px;font-size:23.6px;line-height:30.0px;">Переход</div>
<div class="c" style="left:483.5px;width:149.1px;top:1350.1px;font-size:23.6px;line-height:30.0px;">6499</div>
<div class="c" style="left:1201.6px;width:130.4px;top:1350.1px;font-size:23.6px;line-height:30.0px;">—</div>
<div class="c" style="left:197.4px;width:128.1px;top:1399.8px;font-size:23.6px;line-height:30.0px;">131</div>
<div class="c" style="left:325.5px;width:158.0px;top:1399.8px;font-size:23.6px;line-height:30.0px;">13<sub style="font-size:19px;vertical-align:-7.5px">а</sub>90</div>
<div class="c" style="left:483.5px;width:149.1px;top:1399.8px;font-size:23.6px;line-height:30.0px;">7775</div>
<div class="c" style="left:1201.6px;width:130.4px;top:1399.8px;font-size:23.6px;line-height:30.0px;">10</div>
<div class="c" style="left:197.4px;width:128.1px;top:1449.5px;font-size:23.6px;line-height:30.0px;">132</div>
<div class="c" style="left:325.5px;width:158.0px;top:1449.5px;font-size:23.6px;line-height:30.0px;">Переход</div>
<div class="c" style="left:483.5px;width:149.1px;top:1449.5px;font-size:23.6px;line-height:30.0px;">6534</div>
<div class="c" style="left:1201.6px;width:130.4px;top:1449.5px;font-size:23.6px;line-height:30.0px;">—</div>
<div class="c" style="left:197.4px;width:128.1px;top:1499.2px;font-size:23.6px;line-height:30.0px;">133</div>
<div class="c" style="left:325.5px;width:158.0px;top:1499.2px;font-size:23.6px;line-height:30.0px;">14<sub style="font-size:19px;vertical-align:-7.5px">а</sub>90</div>
<div class="c" style="left:483.5px;width:149.1px;top:1499.2px;font-size:23.6px;line-height:30.0px;">6908</div>
<div class="c" style="left:1201.6px;width:130.4px;top:1499.2px;font-size:23.6px;line-height:30.0px;">10</div>
<div class="c" style="left:197.4px;width:128.1px;top:1548.9px;font-size:23.6px;line-height:30.0px;">134</div>
<div class="c" style="left:325.5px;width:158.0px;top:1548.9px;font-size:23.6px;line-height:30.0px;">Переход</div>
<div class="c" style="left:483.5px;width:149.1px;top:1548.9px;font-size:23.6px;line-height:30.0px;">2922</div>
<div class="c" style="left:1201.6px;width:130.4px;top:1548.9px;font-size:23.6px;line-height:30.0px;">—</div>
<div class="c" style="left:197.4px;width:128.1px;top:1598.6px;font-size:23.6px;line-height:30.0px;">135</div>
<div class="c" style="left:325.5px;width:158.0px;top:1598.6px;font-size:23.6px;line-height:30.0px;">15<sub style="font-size:19px;vertical-align:-7.5px">а</sub>90</div>
<div class="c" style="left:483.5px;width:149.1px;top:1598.6px;font-size:23.6px;line-height:30.0px;">3336</div>
<div class="c" style="left:1201.6px;width:130.4px;top:1598.6px;font-size:23.6px;line-height:30.0px;">10</div>
<div class="c" style="left:197.4px;width:128.1px;top:1648.3px;font-size:23.6px;line-height:30.0px;">136</div>
<div class="c" style="left:325.5px;width:158.0px;top:1648.3px;font-size:23.6px;line-height:30.0px;">Переход</div>
<div class="c" style="left:483.5px;width:149.1px;top:1648.3px;font-size:23.6px;line-height:30.0px;">3029</div>
<div class="c" style="left:1201.6px;width:130.4px;top:1648.3px;font-size:23.6px;line-height:30.0px;">—</div>
<div class="c" style="left:197.4px;width:128.1px;top:1698.1px;font-size:23.6px;line-height:30.0px;">137</div>
<div class="c" style="left:325.5px;width:158.0px;top:1698.1px;font-size:23.6px;line-height:30.0px;">16<sub style="font-size:19px;vertical-align:-7.5px">а</sub>90</div>
<div class="c" style="left:483.5px;width:149.1px;top:1698.1px;font-size:23.6px;line-height:30.0px;">0</div>
<div class="c" style="left:1201.6px;width:130.4px;top:1698.1px;font-size:23.6px;line-height:30.0px;">60</div>
<div class="c" style="left:197.4px;width:128.1px;top:1747.8px;font-size:23.6px;line-height:30.0px;">138</div>
<div class="c" style="left:325.5px;width:158.0px;top:1747.8px;font-size:23.6px;line-height:30.0px;">Переход</div>
<div class="c" style="left:483.5px;width:149.1px;top:1747.8px;font-size:23.6px;line-height:30.0px;">–454</div>
<div class="c" style="left:1201.6px;width:130.4px;top:1747.8px;font-size:23.6px;line-height:30.0px;">—</div>
<div class="c" style="left:197.4px;width:128.1px;top:1797.5px;font-size:23.6px;line-height:30.0px;">139</div>
<div class="c" style="left:325.5px;width:158.0px;top:1797.5px;font-size:23.6px;line-height:30.0px;">17<sub style="font-size:19px;vertical-align:-7.5px">а</sub>90</div>
<div class="c" style="left:483.5px;width:149.1px;top:1797.5px;font-size:23.6px;line-height:30.0px;">–2157</div>
<div class="c" style="left:1201.6px;width:130.4px;top:1797.5px;font-size:23.6px;line-height:30.0px;">10</div>
<div class="c" style="left:197.4px;width:128.1px;top:1847.2px;font-size:23.6px;line-height:30.0px;">140</div>
<div class="c" style="left:325.5px;width:158.0px;top:1847.2px;font-size:23.6px;line-height:30.0px;">Переход</div>
<div class="c" style="left:483.5px;width:149.1px;top:1847.2px;font-size:23.6px;line-height:30.0px;">–2829</div>
<div class="c" style="left:1201.6px;width:130.4px;top:1847.2px;font-size:23.6px;line-height:30.0px;">—</div>
<div class="c" style="left:197.4px;width:128.1px;top:1896.9px;font-size:23.6px;line-height:30.0px;">141</div>
<div class="c" style="left:325.5px;width:158.0px;top:1896.9px;font-size:23.6px;line-height:30.0px;">18<sub style="font-size:19px;vertical-align:-7.5px">а</sub>90</div>
<div class="c" style="left:483.5px;width:149.1px;top:1896.9px;font-size:23.6px;line-height:30.0px;">–4319</div>
<div class="c" style="left:1201.6px;width:130.4px;top:1896.9px;font-size:23.6px;line-height:30.0px;">10</div>
<div class="c" style="left:197.4px;width:128.1px;top:1946.6px;font-size:23.6px;line-height:30.0px;">142</div>
<div class="c" style="left:325.5px;width:158.0px;top:1946.6px;font-size:23.6px;line-height:30.0px;">Переход</div>
<div class="c" style="left:483.5px;width:149.1px;top:1946.6px;font-size:23.6px;line-height:30.0px;">–5307</div>
<div class="c" style="left:1201.6px;width:130.4px;top:1946.6px;font-size:23.6px;line-height:30.0px;">—</div>
<div class="c" style="left:197.4px;width:128.1px;top:1996.3px;font-size:23.6px;line-height:30.0px;">143</div>
<div class="c" style="left:325.5px;width:158.0px;top:1996.3px;font-size:23.6px;line-height:30.0px;">19<sub style="font-size:19px;vertical-align:-7.5px">а</sub>90</div>
<div class="c" style="left:483.5px;width:149.1px;top:1996.3px;font-size:23.6px;line-height:30.0px;">–6477</div>
<div class="c" style="left:1201.6px;width:130.4px;top:1996.3px;font-size:23.6px;line-height:30.0px;">10</div>
<div class="c" style="left:197.4px;width:128.1px;top:2046.0px;font-size:23.6px;line-height:30.0px;">144</div>
<div class="c" style="left:325.5px;width:158.0px;top:2046.0px;font-size:23.6px;line-height:30.0px;">Переход</div>
<div class="c" style="left:483.5px;width:149.1px;top:2046.0px;font-size:23.6px;line-height:30.0px;">–7402</div>
<div class="c" style="left:1201.6px;width:130.4px;top:2046.0px;font-size:23.6px;line-height:30.0px;">—</div>
<div class="c" style="left:632.6px;width:98.5px;top:1201.0px;font-size:23.6px;line-height:30.0px;">0</div>
<div class="c" style="left:632.6px;width:98.5px;top:1325.2px;font-size:23.6px;line-height:30.0px;">1272</div>
<div class="c" style="left:632.6px;width:98.5px;top:1424.6px;font-size:23.6px;line-height:30.0px;">2544</div>
<div class="c" style="left:632.6px;width:98.5px;top:1524.1px;font-size:23.6px;line-height:30.0px;">2922</div>
<div class="c" style="left:632.6px;width:98.5px;top:1598.6px;font-size:23.6px;line-height:30.0px;">3336</div>
<div class="c" style="left:632.6px;width:98.5px;top:1673.2px;font-size:23.6px;line-height:30.0px;">3029</div>
<div class="c" style="left:632.6px;width:98.5px;top:1772.6px;font-size:23.6px;line-height:30.0px;">2580</div>
<div class="c" style="left:632.6px;width:98.5px;top:1872.0px;font-size:23.6px;line-height:30.0px;">1908</div>
<div class="c" style="left:632.6px;width:98.5px;top:1971.5px;font-size:23.6px;line-height:30.0px;">921</div>
<div class="c" style="left:632.6px;width:98.5px;top:2046.0px;font-size:23.6px;line-height:30.0px;">0</div>
<div class="c" style="left:731.1px;width:177.3px;top:1151.2px;font-size:23.6px;line-height:30.0px;">0</div>
<div class="c" style="left:731.1px;width:177.3px;top:1201.0px;font-size:23.6px;line-height:30.0px;">7775</div>
<div class="c" style="left:731.1px;width:177.3px;top:1275.5px;font-size:23.6px;line-height:30.0px;">6499</div>
<div class="c" style="left:731.1px;width:177.3px;top:1374.9px;font-size:23.6px;line-height:30.0px;">5227</div>
<div class="c" style="left:731.1px;width:177.3px;top:1474.4px;font-size:23.6px;line-height:30.0px;">3986</div>
<div class="c" style="left:731.1px;width:177.3px;top:1573.8px;font-size:23.6px;line-height:30.0px;">0</div>
<div class="c" style="left:731.1px;width:177.3px;top:1648.3px;font-size:23.6px;line-height:30.0px;">0</div>
<div class="c" style="left:731.1px;width:177.3px;top:1722.9px;font-size:23.6px;line-height:30.0px;">–3029</div>
<div class="c" style="left:731.1px;width:177.3px;top:1822.3px;font-size:23.6px;line-height:30.0px;">–4737</div>
<div class="c" style="left:731.1px;width:177.3px;top:1921.7px;font-size:23.6px;line-height:30.0px;">–6228</div>
<div class="c" style="left:731.1px;width:177.3px;top:2021.2px;font-size:23.6px;line-height:30.0px;">–7402</div>
<div class="c" style="left:908.4px;width:124.7px;top:1201.0px;font-size:23.6px;line-height:30.0px;">0</div>
<div class="c" style="left:908.4px;width:124.7px;top:1325.2px;font-size:23.6px;line-height:30.0px;">33,8</div>
<div class="c" style="left:908.4px;width:124.7px;top:1424.6px;font-size:23.6px;line-height:30.0px;">67,7</div>
<div class="c" style="left:908.4px;width:124.7px;top:1524.1px;font-size:23.6px;line-height:30.0px;">77,7</div>
<div class="c" style="left:908.4px;width:124.7px;top:1598.6px;font-size:23.6px;line-height:30.0px;">88,7</div>
<div class="c" style="left:908.4px;width:124.7px;top:1673.2px;font-size:23.6px;line-height:30.0px;">80,6</div>
<div class="c" style="left:908.4px;width:124.7px;top:1772.6px;font-size:23.6px;line-height:30.0px;">68,5</div>
<div class="c" style="left:908.4px;width:124.7px;top:1872.0px;font-size:23.6px;line-height:30.0px;">50,8</div>
<div class="c" style="left:908.4px;width:124.7px;top:1971.5px;font-size:23.6px;line-height:30.0px;">24,5</div>
<div class="c" style="left:908.4px;width:124.7px;top:2046.0px;font-size:23.6px;line-height:30.0px;">0</div>
<div class="c" style="left:1033.1px;width:168.5px;top:1568.6px;font-size:23.6px;line-height:30.0px;">Температура<br>окружающей<br>среды</div>
<div class="c" style="left:1332.0px;width:202.8px;top:1538.6px;font-size:23.6px;line-height:30.0px;">CCW<br>(уровень 90 %)<br>См. таблицу 9,<br>таблицу D.19 и<br>рисунок D.30</div>
<div class="t" id="pg" style="left:197.5px;top:2117px;font-size:23.6px;">170</div>
</body></html>
